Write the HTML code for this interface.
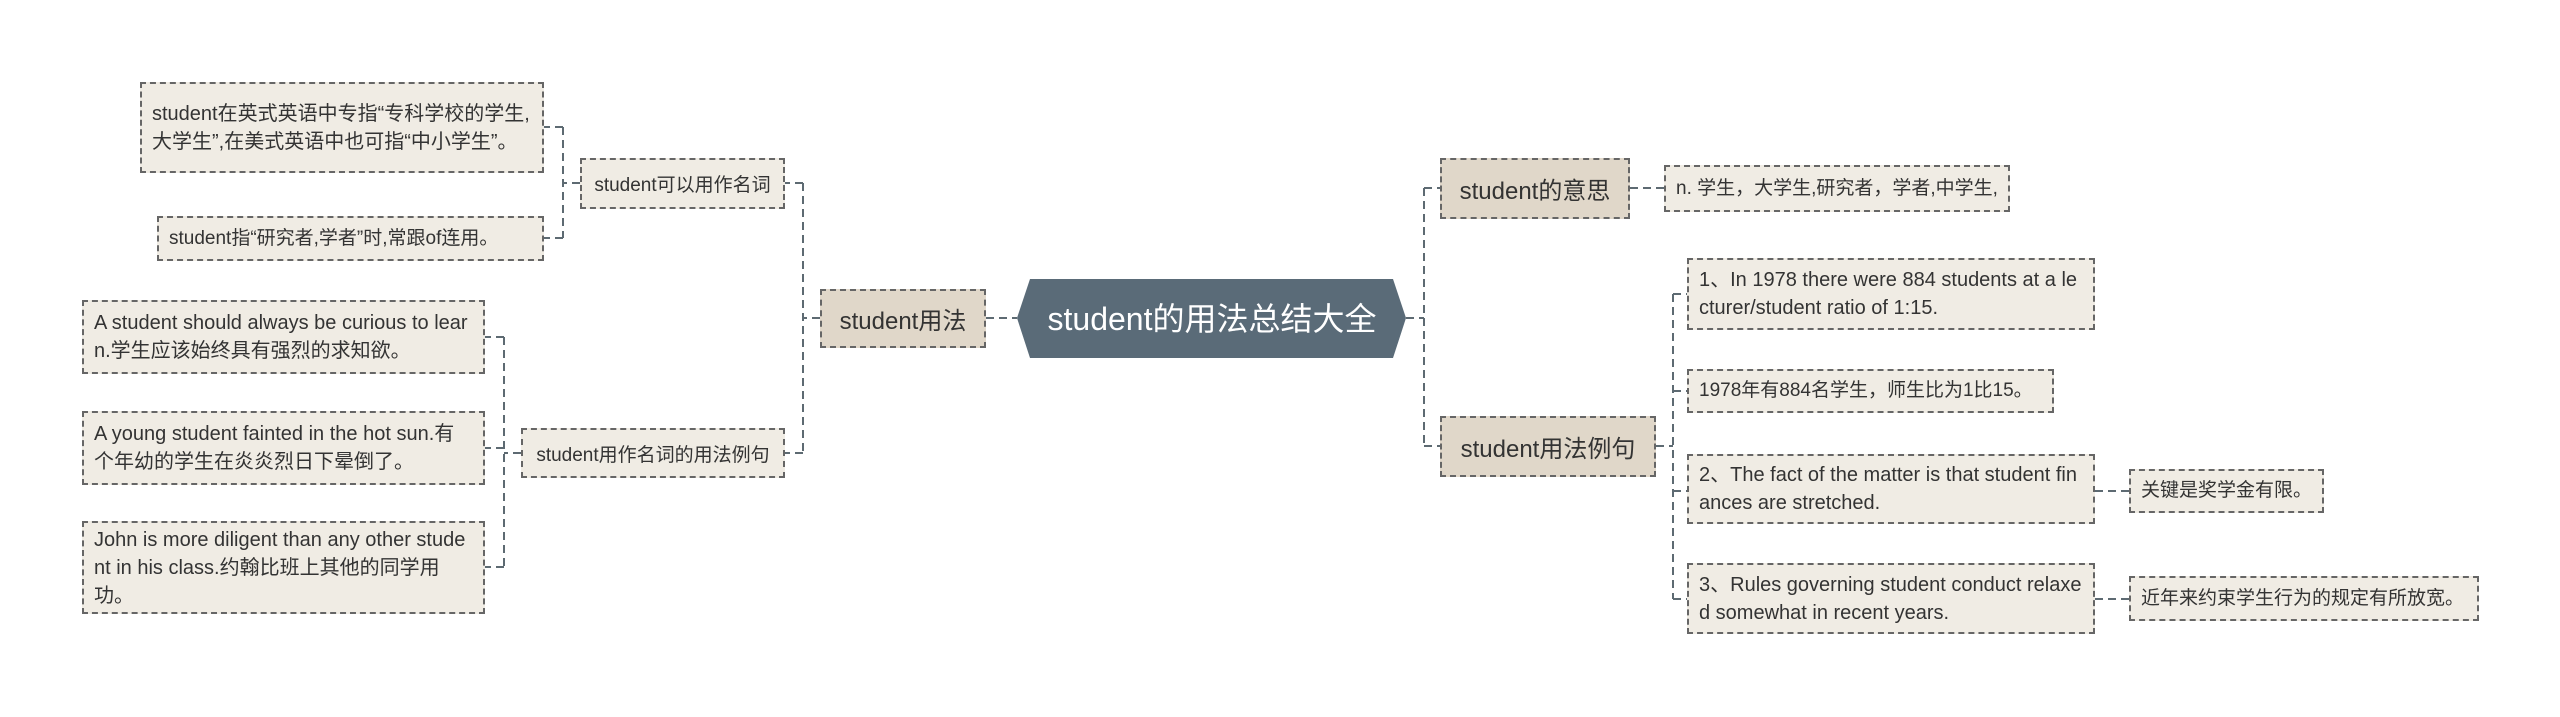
<!DOCTYPE html>
<html><head><meta charset="utf-8"><style>
body{margin:0;width:2560px;height:717px;background:#fff;position:relative;overflow:hidden;font-family:"Liberation Sans","Noto Sans CJK SC",sans-serif;}
.n{position:absolute;box-sizing:border-box;border:2px dashed #666;color:#333;display:flex;align-items:center;}
.l{background:#f0ece4;font-size:20px;line-height:28px;padding:0 10px;word-break:break-all;}
.o{white-space:nowrap;font-size:19px;overflow:hidden;}
.m{background:#e0d7c9;font-size:24px;justify-content:center;}
.s{background:#f0ece4;font-size:19px;justify-content:center;}
svg{position:absolute;left:0;top:0}
</style></head><body>
<svg width="2560" height="717">
<g stroke="#5d6a72" stroke-width="2" fill="none" stroke-dasharray="8,5">
<path d="M986 318H1017"/>
<path d="M820 318H803M803 183V453M803 183H785M803 453H785"/>
<path d="M580 183H563M563 127V238M563 127H544M563 238H544"/>
<path d="M521 453H504M504 337V567M504 337H485M504 448H485M504 567H485"/>
<path d="M1406 318H1424M1424 188V446M1424 188H1440M1424 446H1440"/>
<path d="M1630 188H1664"/>
<path d="M1656 446H1673M1673 294V599M1673 294H1687M1673 391H1687M1673 491H1687M1673 599H1687"/>
<path d="M2095 491H2129M2095 599H2129"/>
</g>
<polygon points="1030,279 1393,279 1406,318 1393,358 1030,358 1017,318" fill="#5a6b78"/>
<text x="1212" y="330" text-anchor="middle" font-size="32" fill="#fff" font-family="Liberation Sans, Noto Sans CJK SC, sans-serif">student的用法总结大全</text>
</svg>
<div class="n m" style="left:820px;top:289px;width:166px;height:59px">student用法</div>
<div class="n s" style="left:580px;top:158px;width:205px;height:51px">student可以用作名词</div>
<div class="n l" style="left:140px;top:82px;width:404px;height:91px">student在英式英语中专指“专科学校的学生,大学生”,在美式英语中也可指“中小学生”。</div>
<div class="n l o" style="left:157px;top:216px;width:387px;height:45px">student指“研究者,学者”时,常跟of连用。</div>
<div class="n s" style="left:521px;top:428px;width:264px;height:50px">student用作名词的用法例句</div>
<div class="n l" style="left:82px;top:300px;width:403px;height:74px">A student should always be curious to learn.学生应该始终具有强烈的求知欲。</div>
<div class="n l" style="left:82px;top:411px;width:403px;height:74px">A young student fainted in the hot sun.有个年幼的学生在炎炎烈日下晕倒了。</div>
<div class="n l" style="left:82px;top:521px;width:403px;height:93px">John is more diligent than any other student in his class.约翰比班上其他的同学用功。</div>
<div class="n m" style="left:1440px;top:158px;width:190px;height:61px">student的意思</div>
<div class="n l o" style="left:1664px;top:165px;width:346px;height:47px">n. 学生，大学生,研究者，学者,中学生,</div>
<div class="n m" style="left:1440px;top:416px;width:216px;height:61px">student用法例句</div>
<div class="n l" style="left:1687px;top:258px;width:408px;height:72px">1、In 1978 there were 884 students at a lecturer/student ratio of 1:15.</div>
<div class="n l o" style="left:1687px;top:369px;width:367px;height:44px">1978年有884名学生，师生比为1比15。</div>
<div class="n l" style="left:1687px;top:454px;width:408px;height:70px">2、The fact of the matter is that student finances are stretched.</div>
<div class="n l o" style="left:2129px;top:469px;width:195px;height:44px">关键是奖学金有限。</div>
<div class="n l" style="left:1687px;top:563px;width:408px;height:71px">3、Rules governing student conduct relaxed somewhat in recent years.</div>
<div class="n l o" style="left:2129px;top:576px;width:350px;height:45px">近年来约束学生行为的规定有所放宽。</div>
</body></html>
